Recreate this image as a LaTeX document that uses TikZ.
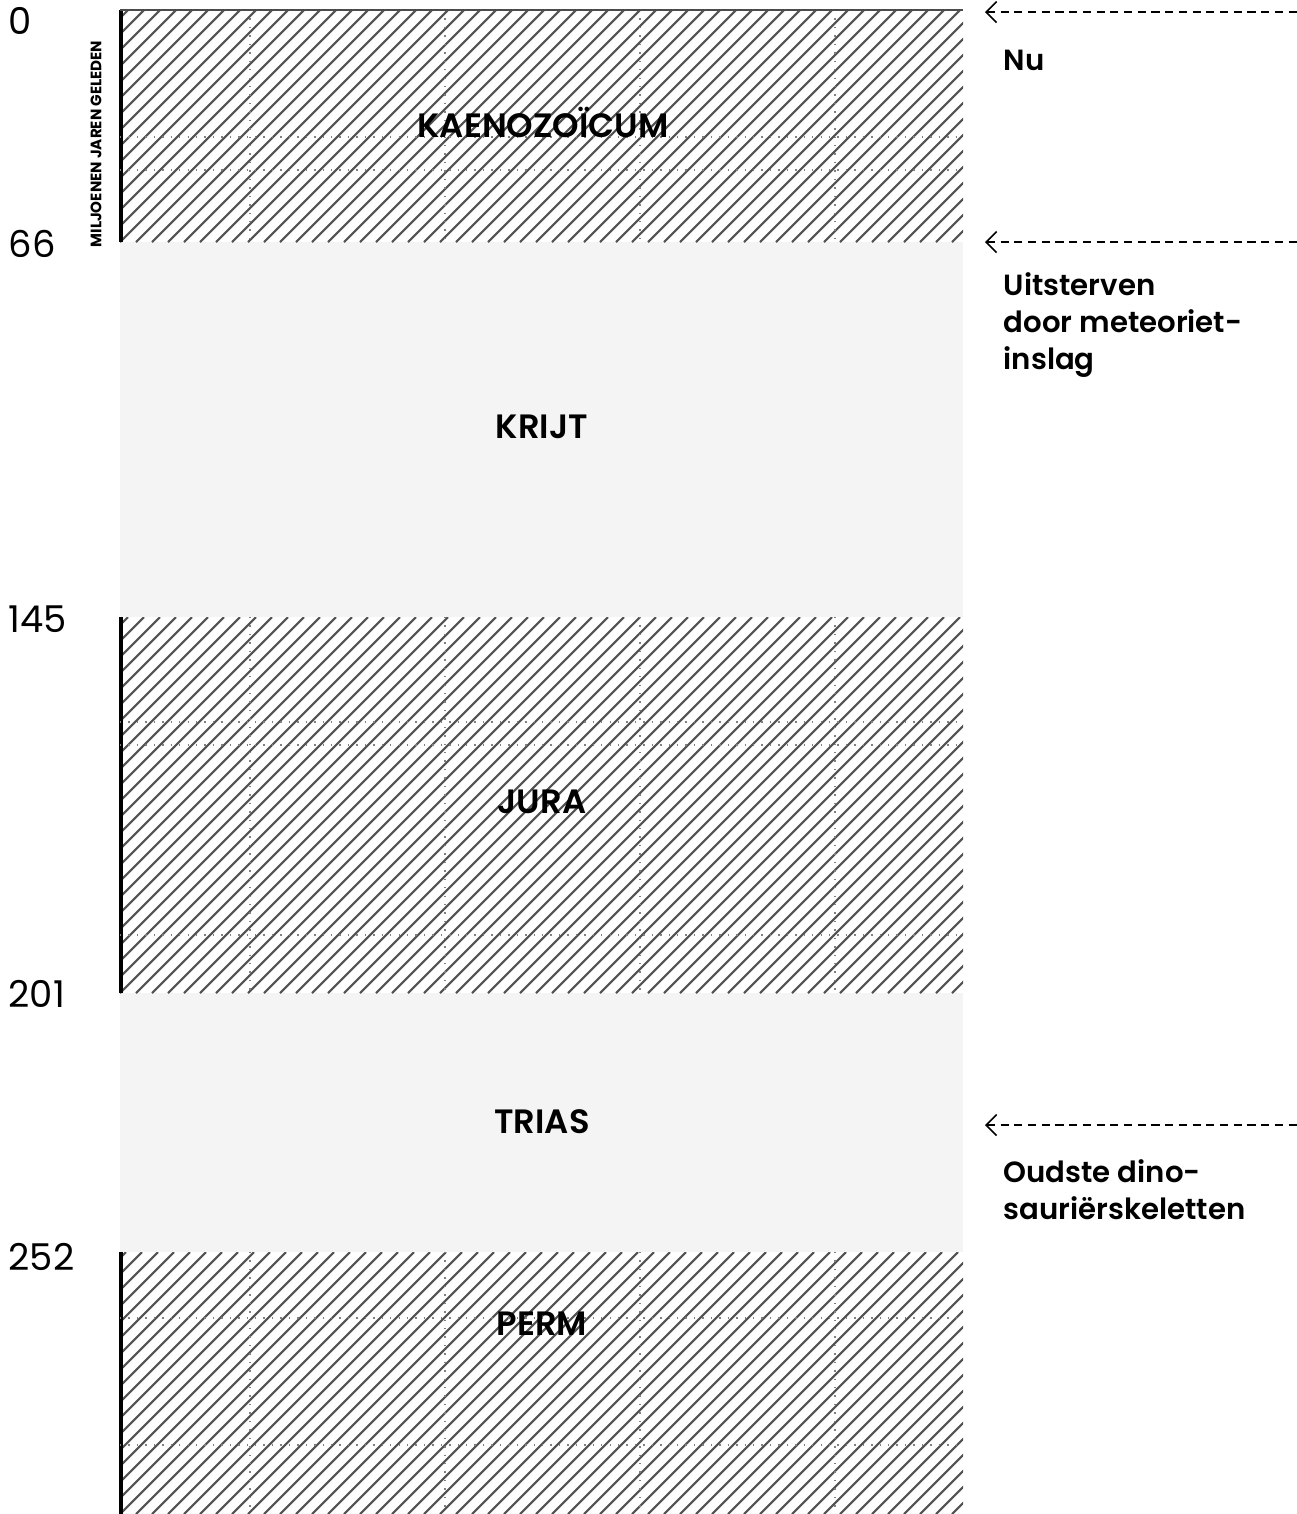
\documentclass[tikz,border=0pt]{standalone}
\usepackage{fontspec}
\setmainfont{Poppins}
\newfontfamily\medfont{Poppins SemiBold}
\usetikzlibrary{arrows.meta}
\definecolor{paper}{HTML}{F4F4F4}

% gearceerd blok: boven, onder
\newcommand\hatchblock[2]{%
  \begin{scope}
    \clip (120,#1) rectangle (963,#2);
    \foreach \x in {-264,-248,...,963}
      \draw[hatchline] (\x,#2) -- ++(#2-#1,#1-#2);
    \foreach \x in {250,445,640,835}
      \draw[seam] (\x,#1) -- (\x,#2);
  \end{scope}
  \draw[line width=1pt] (121,#1) -- (121,#2);
}

\begin{document}
\begin{tikzpicture}[x=0.01cm, y=-0.01cm,
  hatchline/.style={black!68, line width=0.6pt},
  seam/.style={black!50, line width=0.4pt, dotted},
  era/.style={anchor=base, inner sep=0pt, font=\medfont\fontsize{9.6}{10}\selectfont},
  age/.style={anchor=base west, inner sep=0pt, font=\fontsize{10.5}{12}\selectfont},
  event/.style={anchor=base west, align=left, inner sep=0pt, font=\medfont\fontsize{8.3}{10.4}\selectfont},
  pointer/.style={{Straight Barb[length=3pt,width=6pt]}-, dash pattern=on 2.3pt off 1.6pt, line width=0.45pt},
]
  \useasboundingbox (0,0) rectangle (1297,1514);
  % lichte tijdvakken
  \fill[paper] (120,242) rectangle (963,617);
  \fill[paper] (120,993) rectangle (963,1252);
  % gearceerde tijdvakken
  \hatchblock{10}{242}
  \hatchblock{617}{993}
  \hatchblock{1252}{1514}
  \foreach \y in {137,170} \draw[seam] (120,\y) -- (963,\y);
  \foreach \y in {722,745,935} \draw[seam] (120,\y) -- (963,\y);
  \foreach \y in {1318,1445} \draw[seam] (120,\y) -- (963,\y);
  \draw[black!70, line width=0.8pt] (120,10) -- (963,10);

  % namen
  \node[era] (kaeno) at (543,137) {KAENOZOÏCUM};
  \node[era] (krijt) at (542,438) {KRIJT};
  \node[era] (jura)  at (542,813) {JURA};
  \node[era] (trias) at (542,1133) {TRIAS};
  \node[era] (perm)  at (542,1335) {PERM};

  % jaartallen
  \node[age] (age0)   at (8,34)   {0};
  \node[age] (age66)  at (8,257)  {66};
  \node[age] (age145) at (8,632)  {145};
  \node[age] (age201) at (8,1007) {201};
  \node[age] (age252) at (8,1270) {252};
  \node[rotate=90, inner sep=0pt, font=\bfseries\fontsize{4.3}{5}\selectfont] (unit) at (96,144) {MILJOENEN JAREN GELEDEN};

  % gebeurtenissen
  \coordinate (nuTip) at (985,12);
  \coordinate (nuEnd) at (1297,12);
  \coordinate (metTip) at (985,242);
  \coordinate (metEnd) at (1297,242);
  \coordinate (dinoTip) at (985,1125);
  \coordinate (dinoEnd) at (1297,1125);
  \draw[pointer] (nuTip) -- (nuEnd);
  \draw[pointer] (metTip) -- (metEnd);
  \draw[pointer] (dinoTip) -- (dinoEnd);
  \node[event] (nu) at (1003,70) {Nu};
  \node[event] (meteor) at (1003,369) {Uitsterven\\door meteoriet-\\inslag};
  \node[event] (dino) at (1003,1219) {Oudste dino-\\sauriërskeletten};
\end{tikzpicture}
\end{document}
